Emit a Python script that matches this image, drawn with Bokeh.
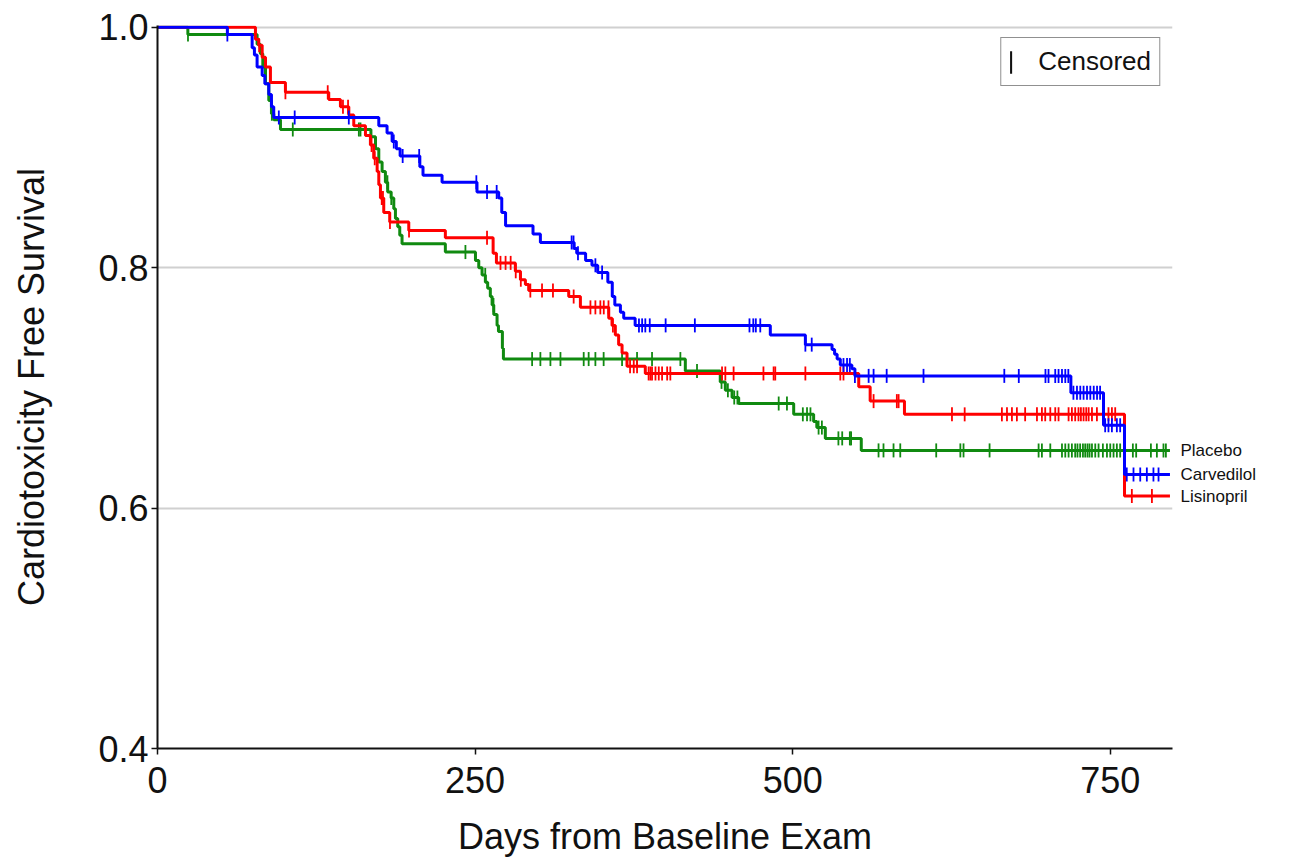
import numpy as np
from bokeh.plotting import figure
from bokeh.models import (Range1d, FixedTicker, PrintfTickFormatter, Legend, LegendItem,
                          LinearAxis)
from bokeh.embed import file_html
from bokeh.resources import INLINE

END_DAY = 797

# ---- Carvedilol (blue) ----
carv_days = [55, 74.5, 76.3, 78.4, 82.4, 84.5, 87.6, 89.7, 91.5, 174.2, 180.7, 184.7, 188, 191,
             206.5, 209, 224, 251.5, 268.6, 271, 274, 295.6, 301.4, 328, 330, 337, 342, 346.5,
             354.5, 358, 360, 364.4, 367, 376, 482.4, 510, 531, 533, 535, 537.5, 546.6, 549,
             719, 744.7, 761.2]
carv_surv = [0.994, 0.983, 0.977, 0.967, 0.960, 0.953, 0.944, 0.934, 0.925, 0.918, 0.912, 0.905, 0.899, 0.893,
             0.884, 0.877, 0.871, 0.863, 0.858, 0.846, 0.835, 0.828, 0.821, 0.816, 0.812, 0.806, 0.802, 0.796,
             0.788, 0.776, 0.769, 0.763, 0.758, 0.752, 0.744, 0.736, 0.732, 0.728, 0.724, 0.719, 0.716, 0.710,
             0.696, 0.669, 0.628]
carv_cens = [55, 95.5, 108, 150.6, 186, 193, 206, 251, 259.4, 267, 326, 327.5, 331, 344.7, 350, 379, 381.5,
             384, 387.5, 400, 423, 466, 469, 471, 474.5, 510, 515, 540, 542.8, 545, 549, 559.8, 563.7, 574,
             603, 666.6, 678, 699, 701.4, 706.7, 709.3, 712, 714.6, 717, 721, 723.8, 726.4, 729, 731.7,
             734.3, 737, 739.6, 742, 746, 748.6, 751.3, 755.2, 757.8, 763, 768.3, 773.6, 778.8, 784, 788]

# ---- Lisinopril (red) ----
lis_days = [77.1, 79.7, 82.4, 85, 88.9, 100.7, 134.8, 144, 150.6, 154.5, 163.7, 167.6, 170.2, 172.9,
            174.2, 175.5, 178.1, 182.8, 197.8, 226.6, 264.2, 266.8, 281.7, 285.7, 289.6, 292.2, 323.7,
            332.9, 355.2, 357.8, 360.4, 363, 365.7, 369.6, 384, 552, 561, 588, 761.2]
lis_surv = [0.990, 0.985, 0.975, 0.967, 0.954, 0.946, 0.940, 0.934, 0.927, 0.918, 0.910, 0.902, 0.891, 0.880,
            0.869, 0.858, 0.846, 0.838, 0.831, 0.825, 0.812, 0.804, 0.797, 0.790, 0.786, 0.781, 0.776,
            0.767, 0.758, 0.752, 0.744, 0.736, 0.729, 0.718, 0.712, 0.701, 0.689, 0.678, 0.610]
lis_cens = [80, 100.7, 134, 146, 150, 168.5, 171, 176.5, 177.5, 183, 198, 259.4, 270, 274, 278, 282, 286,
            293.5, 302.7, 311.3, 327.6, 340.8, 344.7, 348.6, 351.3, 355, 358.5, 372, 374.9, 377.5, 386.6,
            388, 389.3, 392, 394.6, 397.2, 401.2, 403.7, 444.4, 447, 453.5, 477, 485, 486.3, 510, 537.5,
            540, 563.7, 582, 583.4, 625.4, 635.4, 664.7, 668.7, 672.6, 676.5, 683, 692.3, 696.2, 698.8,
            702.8, 706.7, 709.3, 717.2, 719.8, 722.4, 725, 726.9, 729, 731.1, 733, 735.6, 739.5, 748.6,
            751.3, 753.9, 767, 782.8]

# ---- Placebo (green) ----
plac_days = [23.9, 78.4, 81, 82.9, 85, 87.6, 89.7, 91.5, 96.8, 168, 171.6, 174.2, 176.8, 179.4, 181.2,
             183.9, 186, 187.3, 189.1, 190.7, 192.5, 226.6, 250.3, 252.9, 255.5, 258.1, 259.9, 262, 263.4,
             264.7, 267.3, 268.4, 271.5, 272.3, 415.5, 443, 447, 452.3, 457.5, 500.8, 516.5, 519, 525.7, 554]
plac_surv = [0.994, 0.986, 0.978, 0.967, 0.953, 0.939, 0.928, 0.923, 0.915, 0.909, 0.899, 0.888, 0.880, 0.871, 0.863,
             0.858, 0.849, 0.841, 0.834, 0.827, 0.820, 0.813, 0.806, 0.800, 0.794, 0.788, 0.783, 0.776, 0.769,
             0.761, 0.752, 0.747, 0.733, 0.724, 0.714, 0.705, 0.698, 0.692, 0.687, 0.678, 0.672, 0.667, 0.658, 0.648]
plac_cens = [24, 90, 106.5, 158.5, 159.8, 181, 184, 242.4, 258, 264.5, 294.9, 301.4, 309.3, 317.2, 335.5,
             339.4, 344.7, 351.2, 365.7, 377.5, 389.3, 411.6, 424.7, 444, 449, 454, 456.5, 489, 495.5, 508,
             511.3, 514, 520.4, 523, 536, 539, 545, 546, 567.6, 571.5, 579.4, 584.7, 613, 632, 634.5, 655,
             693.6, 696.2, 702.8, 712, 714.6, 717.2, 719.8, 722.4, 724.2, 726.3, 728.5, 730.3, 732.1, 733.7,
             735.6, 738.2, 740.8, 744.2, 747.4, 750, 752.6, 755.2, 757.8, 767.8, 770.4, 782, 786.7, 791.9, 793.8]

group_names = ["Placebo", "Lisinopril", "Carvedilol"]
group_colors = ["#108a10", "#ff0000", "#0000ff"]
groups = list(zip(group_names,
                  [plac_days, lis_days, carv_days],
                  [plac_surv, lis_surv, carv_surv],
                  [plac_cens, lis_cens, carv_cens],
                  group_colors))

FONT = "Liberation Sans"

p = figure(frame_width=1015, frame_height=723,
           x_range=Range1d(0, 799), y_range=Range1d(0.4, 1.0015),
           output_backend="svg", toolbar_location=None,
           min_border_left=157, min_border_right=113, min_border_top=25, min_border_bottom=100)
p.outline_line_color = None
p.background_fill_color = "white"
p.border_fill_color = "white"

p.xgrid.grid_line_color = None
p.ygrid.grid_line_color = "#d0d0d0"
p.ygrid.grid_line_width = 2
p.ygrid.ticker = FixedTicker(ticks=[0.4, 0.6, 0.8, 1.0])

p.xaxis.ticker = FixedTicker(ticks=[0, 250, 500, 750])
p.yaxis.ticker = FixedTicker(ticks=[0.4, 0.6, 0.8, 1.0])
p.yaxis.formatter = PrintfTickFormatter(format="%.1f")
for ax in (p.xaxis[0], p.yaxis[0]):
    ax.axis_line_color = "#111111"
    ax.axis_line_width = 2
    ax.major_tick_line_color = "#111111"
    ax.major_tick_line_width = 1.5
    ax.major_tick_out = 6
    ax.major_tick_in = 0
    ax.minor_tick_line_color = None
    ax.major_label_text_font = FONT
    ax.major_label_text_font_size = "36px"
    ax.major_label_text_color = "#111111"
    ax.axis_label_text_font = FONT
    ax.axis_label_text_font_style = "normal"
    ax.axis_label_text_font_size = "36px"
    ax.axis_label_text_color = "#111111"
p.xaxis.axis_label = "Days from Baseline Exam"
p.yaxis.axis_label = "Cardiotoxicity Free Survival"
p.xaxis.major_label_standoff = 12
p.yaxis.major_label_standoff = 3
p.xaxis.axis_label_standoff = 20
p.yaxis.axis_label_standoff = 43

for name, days, surv, cens, color in groups:
    xs = np.array([0.0] + list(days) + [END_DAY])
    ys = np.array([1.0] + list(surv) + [surv[-1]])
    p.step(xs, ys, mode="after", line_color=color, line_width=3)
    # censor marks sit on the step curve
    idx = np.searchsorted(xs, np.array(cens), side="right") - 1
    cy = ys[idx]
    p.scatter(cens, cy, marker="dash", angle=np.pi / 2, size=14,
              line_color=color, line_width=1.8, fill_color=color)

# group names at the right end of each curve (right-hand axis labels)
final_vals = [g[2][-1] for g in groups]
right_ax = LinearAxis(ticker=FixedTicker(ticks=final_vals),
                      major_label_overrides={v: g[0] for v, g in zip(final_vals, groups)})
right_ax.axis_line_color = None
right_ax.major_tick_line_color = None
right_ax.minor_tick_line_color = None
right_ax.major_label_standoff = 2
right_ax.major_label_text_font = FONT
right_ax.major_label_text_font_size = "17px"
right_ax.major_label_text_color = "#111111"
p.add_layout(right_ax, "right")

# legend key: a thin vertical bar standing for a censor mark
dummy = p.vbar(x=[-1000], top=[-1000], bottom=[-1001], width=1,
               fill_color="#111111", line_color=None)
legend = Legend(items=[LegendItem(label="Censored", renderers=[dummy])],
                location="top_right")
legend.margin = 12
legend.padding = 8
legend.glyph_width = 3
legend.glyph_height = 28
legend.label_standoff = 26
legend.label_height = 28
legend.label_text_font = FONT
legend.label_text_font_size = "26px"
legend.label_text_color = "#111111"
legend.border_line_color = "#222222"
legend.border_line_width = 1.5
p.add_layout(legend)

open("out.html", "w").write(file_html(p, INLINE))
